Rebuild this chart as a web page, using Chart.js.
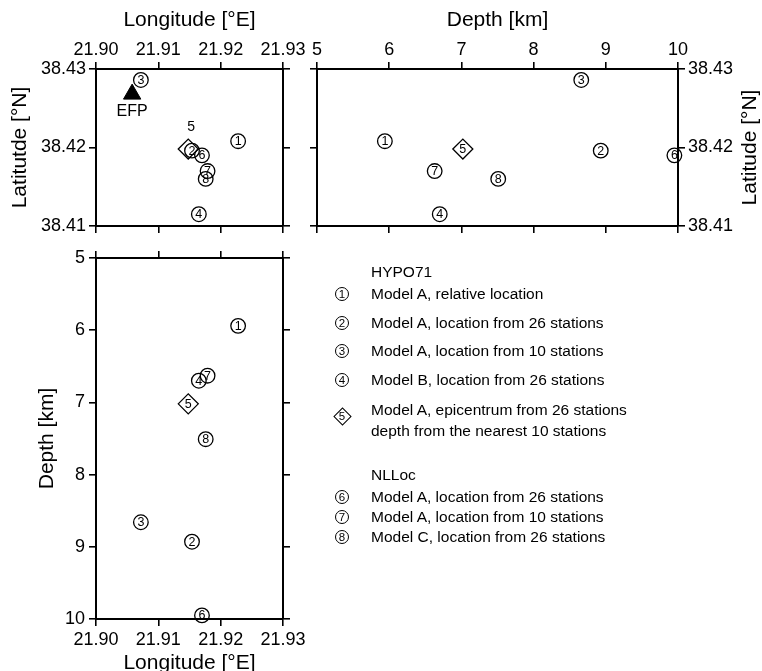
<!DOCTYPE html>
<html><head><meta charset="utf-8">
<script src="https://cdn.jsdelivr.net/npm/chart.js@4.4.1/dist/chart.umd.min.js"></script>
<style>
html,body{margin:0;padding:0;background:#fff;}
#wrap{position:relative;width:762px;height:671px;overflow:hidden;font-family:"Liberation Sans",Arial,sans-serif;color:#000;}
#wrap canvas{position:absolute;left:0;top:0;}
.lg{position:absolute;left:371px;font-size:15.5px;line-height:18px;white-space:nowrap;}
.sym{position:absolute;width:12px;height:12px;border:1.2px solid #000;border-radius:50%;font-size:11.5px;line-height:12px;text-align:center;box-sizing:content-box;}
.dia{position:absolute;width:11px;height:11px;border:1.2px solid #000;transform:rotate(45deg);}
.diaTxt{position:absolute;width:14px;text-align:center;font-size:11.5px;line-height:12px;}
</style>
</head><body>
<div id="wrap">
<canvas id="cA" width="762" height="671"></canvas>
<canvas id="cB" width="762" height="671"></canvas>
<canvas id="cC" width="762" height="690"></canvas>
<div id="legend"></div>
</div>
<script>
// ---- data ----
const circleIds    = [1, 2, 3, 4, 6, 7, 8];
const circleLon    = [21.9228, 21.9154, 21.9072, 21.9165, 21.9170, 21.9179, 21.9176];
const circleLat    = [38.4208, 38.4196, 38.4286, 38.4115, 38.4190, 38.4170, 38.4160];
const circleDepth  = [5.94, 8.93, 8.66, 6.70, 9.95, 6.63, 7.51];
const diamondIds   = [5];
const diamondLon   = [21.9148];
const diamondLat   = [38.4198];
const diamondDepth = [7.02];
const stationNames = ['EFP'];
const stationLon   = [21.9058];
const stationLat   = [38.4268];
const lonTicks   = [21.90, 21.91, 21.92, 21.93];
const latTicks   = [38.41, 38.42, 38.43];
const depthTicks = [5, 6, 7, 8, 9, 10];
const legendGroups = ['HYPO71', 'NLLoc'];
const legendIds = [1, 2, 3, 4, 5, 6, 7, 8];
const legendTexts = [
  'Model A, relative location',
  'Model A, location from 26 stations',
  'Model A, location from 10 stations',
  'Model B, location from 26 stations',
  'Model A, epicentrum from 26 stations\ndepth from the nearest 10 stations',
  'Model A, location from 26 stations',
  'Model A, location from 10 stations',
  'Model C, location from 26 stations'
];

// ---- helpers ----
const FONT = '"Liberation Sans", Arial, sans-serif';
const W = 762;
function pts(xs, ys) { return xs.map((x, i) => ({x: x, y: ys[i]})); }

function axis(pos, min, max, tickVals, o) {
  o = o || {};
  return {
    type: 'linear', position: pos, min: min, max: max, reverse: !!o.reverse,
    afterBuildTicks: s => { s.ticks = tickVals.map(v => ({value: v})); },
    afterFit: s => { if (pos === 'top' || pos === 'bottom') s.height = o.size; else s.width = o.size; },
    ticks: {
      display: !!o.labels, padding: o.pad == null ? 2 : o.pad, autoSkip: false, maxRotation: 0,
      color: '#000', font: {family: FONT, size: 18},
      callback: v => (o.dec == null ? String(v) : Number(v).toFixed(o.dec))
    },
    title: o.title ? {display: true, text: o.title, color: '#000',
      font: {family: FONT, size: 21, lineHeight: 1.2}, padding: {top: o.tpad, bottom: o.tpad}} : {display: false},
    grid: {drawOnChartArea: false, drawTicks: true, tickLength: 7, lineWidth: 1.6, color: '#000'},
    border: {display: true, color: '#000', width: 2}
  };
}

const numberLabels = {
  id: 'numberLabels',
  afterDatasetsDraw(chart) {
    const ctx = chart.ctx;
    ctx.save();
    ctx.fillStyle = '#000'; ctx.textAlign = 'center'; ctx.textBaseline = 'middle';
    chart.data.datasets.forEach((ds, i) => {
      if (!ds.numLabels) return;
      const meta = chart.getDatasetMeta(i);
      meta.data.forEach((el, j) => {
        const off = (ds.labelOffsets && ds.labelOffsets[j]) || [0, 0];
        ctx.font = (ds.labelSize || 12.5) + 'px ' + FONT;
        ctx.fillText(String(ds.numLabels[j]), el.x + off[0], el.y + off[1] + 0.5);
      });
    });
    ctx.restore();
  }
};

const rightTitle = {
  id: 'rightTitle',
  afterDraw(chart, args, opts) {
    if (!opts.text) return;
    const s = chart.scales[opts.scale];
    const ctx = chart.ctx;
    ctx.save();
    ctx.translate(s.right - 12, (s.top + s.bottom) / 2);
    ctx.rotate(-Math.PI / 2);
    ctx.font = '21px ' + FONT; ctx.fillStyle = '#000';
    ctx.textAlign = 'center'; ctx.textBaseline = 'middle';
    ctx.fillText(opts.text, 0, 0);
    ctx.restore();
  }
};

function circleSet(data, xA, yA) {
  return {data: data, xAxisID: xA, yAxisID: yA, pointStyle: 'circle', pointRadius: 7.3,
    backgroundColor: 'rgba(0,0,0,0)', borderColor: '#000', borderWidth: 1.3, clip: false,
    numLabels: circleIds, order: 1};
}
function diamondSet(data, xA, yA, offs, size) {
  return {data: data, xAxisID: xA, yAxisID: yA, pointStyle: 'rectRot', pointRadius: 10,
    backgroundColor: 'rgba(0,0,0,0)', borderColor: '#000', borderWidth: 1.3, clip: false,
    numLabels: diamondIds, labelOffsets: offs, labelSize: size, order: 2};
}

const common = {
  responsive: false, animation: false, events: [],
  layout: {padding: 0},
  plugins: {legend: {display: false}, tooltip: {enabled: false}}
};

// ---- Panel A: longitude vs latitude ----
new Chart(document.getElementById('cA'), {
  type: 'scatter',
  data: {datasets: [
    circleSet(pts(circleLon, circleLat), 'xt', 'yl'),
    diamondSet(pts(diamondLon, diamondLat), 'xt', 'yl', [[3, -22]], 14),
    {data: pts(stationLon, stationLat), xAxisID: 'xt', yAxisID: 'yl', pointStyle: 'triangle',
      pointRadius: 10, backgroundColor: '#000', borderColor: '#000', borderWidth: 1, clip: false,
      numLabels: stationNames, labelOffsets: [[0, 16.5]], labelSize: 16, order: 3}
  ]},
  options: Object.assign({}, common, {
    scales: {
      xt: axis('top', 21.90, 21.93, lonTicks, {labels: true, dec: 2, size: 69, pad: 1, title: 'Longitude [°E]', tpad: 8}),
      xb: axis('bottom', 21.90, 21.93, lonTicks, {size: 671 - 226}),
      yl: axis('left', 38.41, 38.43, latTicks, {labels: true, dec: 2, size: 96, pad: 3, title: 'Latitutde [°N]', tpad: 8}),
      yr: axis('right', 38.41, 38.43, latTicks, {size: W - 283})
    }
  }),
  plugins: [numberLabels]
});

// ---- Panel B: depth vs latitude ----
new Chart(document.getElementById('cB'), {
  type: 'scatter',
  data: {datasets: [
    circleSet(pts(circleDepth, circleLat), 'xt', 'yr'),
    diamondSet(pts(diamondDepth, diamondLat), 'xt', 'yr', [[0, 0]], 12.5)
  ]},
  options: Object.assign({}, common, {
    plugins: {legend: {display: false}, tooltip: {enabled: false}, rightTitle: {text: 'Latitude [°N]', scale: 'yr'}},
    scales: {
      xt: axis('top', 5, 10, depthTicks, {labels: true, size: 69, pad: 1, title: 'Depth [km]', tpad: 8}),
      xb: axis('bottom', 5, 10, depthTicks, {size: 671 - 226}),
      yl: axis('left', 38.41, 38.43, latTicks, {size: 317}),
      yr: axis('right', 38.41, 38.43, latTicks, {labels: true, dec: 2, size: W - 678, pad: 3})
    }
  }),
  plugins: [numberLabels, rightTitle]
});

// ---- Panel C: longitude vs depth ----
new Chart(document.getElementById('cC'), {
  type: 'scatter',
  data: {datasets: [
    circleSet(pts(circleLon, circleDepth), 'xb', 'yl'),
    diamondSet(pts(diamondLon, diamondDepth), 'xb', 'yl', [[0, 0]], 12.5)
  ]},
  options: Object.assign({}, common, {
    scales: {
      xt: axis('top', 21.90, 21.93, lonTicks, {size: 258}),
      xb: axis('bottom', 21.90, 21.93, lonTicks, {labels: true, dec: 2, size: 690 - 619, pad: 3, title: 'Longitude [°E]', tpad: 14}),
      yl: axis('left', 5, 10, depthTicks, {labels: true, reverse: true, size: 96, pad: 4, title: 'Depth [km]', tpad: 35}),
      yr: axis('right', 5, 10, depthTicks, {reverse: true, size: W - 283})
    }
  }),
  plugins: [numberLabels]
});

// ---- legend (HTML text) ----
(function () {
  const lg = document.getElementById('legend');
  const rowY = [294, 323, 351, 380, 410, 497, 517, 537];
  const groupY = [272, 475];
  const symX = 342;
  function line(txt, cy) {
    const d = document.createElement('div');
    d.className = 'lg'; d.style.top = (cy - 9) + 'px'; d.textContent = txt;
    lg.appendChild(d);
  }
  legendGroups.forEach((g, i) => line(g, groupY[i]));
  legendIds.forEach((id, i) => {
    const parts = legendTexts[i].split('\n');
    parts.forEach((p, k) => line(p, rowY[i] + k * 21));
    const cy = rowY[i] + (parts.length - 1) * 6;
    if (diamondIds.indexOf(id) >= 0) {
      const d = document.createElement('div');
      d.className = 'dia'; d.style.left = (symX - 6.5) + 'px'; d.style.top = (cy - 6.5) + 'px';
      lg.appendChild(d);
      const t = document.createElement('div');
      t.className = 'diaTxt'; t.style.left = (symX - 7) + 'px'; t.style.top = (cy - 6) + 'px';
      t.textContent = String(id); lg.appendChild(t);
    } else {
      const c = document.createElement('div');
      c.className = 'sym'; c.style.left = (symX - 7) + 'px'; c.style.top = (cy - 7) + 'px';
      c.textContent = String(id); lg.appendChild(c);
    }
  });
})();
</script>
</body></html>
